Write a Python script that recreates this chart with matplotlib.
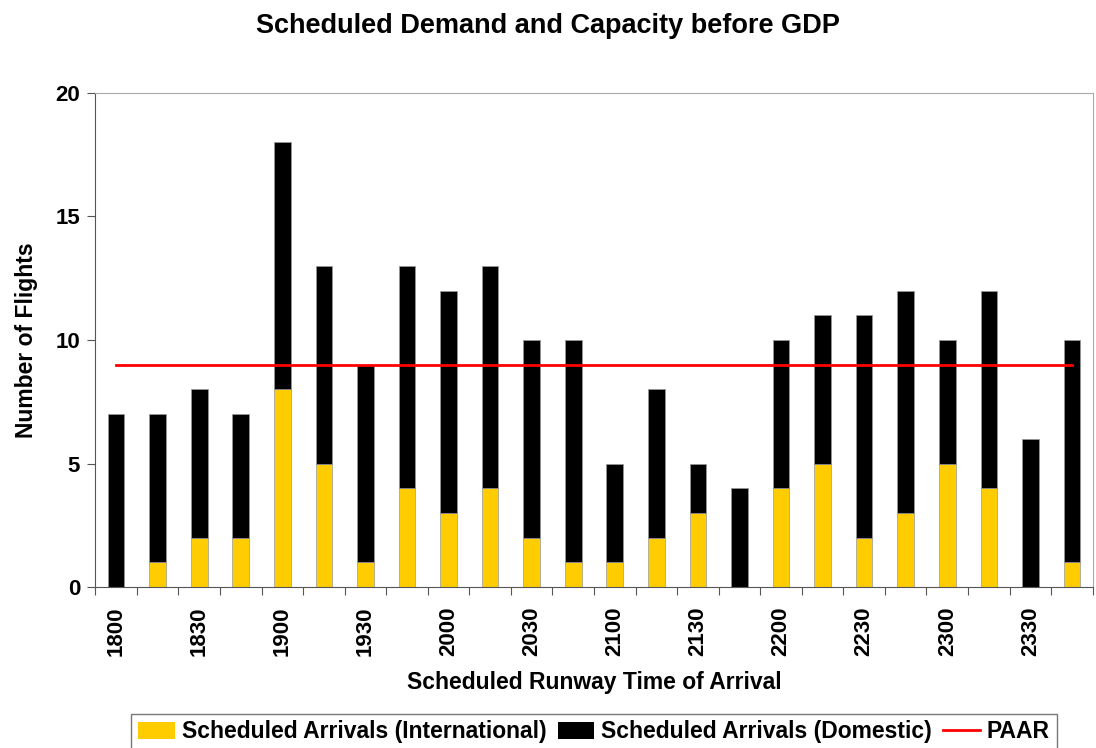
import numpy as np
import matplotlib.pyplot as plt
from matplotlib.lines import Line2D
from matplotlib.patches import Patch

plt.rcParams['font.family'] = ['Liberation Sans', 'DejaVu Sans']
plt.rcParams['font.weight'] = 'bold'

times = ['1800', '1815', '1830', '1845', '1900', '1915', '1930', '1945',
         '2000', '2015', '2030', '2045', '2100', '2115', '2130', '2145',
         '2200', '2215', '2230', '2245', '2300', '2315', '2330', '2345']
intl = [0, 1, 2, 2, 8, 5, 1, 4, 3, 4, 2, 1, 1, 2, 3, 0, 4, 5, 2, 3, 5, 4, 0, 1]
total = [7, 7, 8, 7, 18, 13, 9, 13, 12, 13, 10, 10, 5, 8, 5, 4, 10, 11, 11, 12, 10, 12, 6, 10]
domestic = [t - i for t, i in zip(total, intl)]
paar = [9] * len(times)

x = np.arange(len(times))

fig = plt.figure(figsize=(10.96, 7.48), dpi=100)
ax = fig.add_axes([0.087, 0.215, 0.910, 0.661])

ax.bar(x, intl, width=0.4, color='#FFCC00', edgecolor='#999999', linewidth=0.5)
ax.bar(x, domestic, width=0.4, bottom=intl, color='black', edgecolor='#999999', linewidth=0.5)
ax.plot(x, paar, color='#FF0000', linewidth=2)

ax.set_xlim(-0.5, len(times) - 0.5)
ax.set_ylim(0, 20)
ax.set_yticks([0, 5, 10, 15, 20])
ax.tick_params(axis='y', labelsize=16, length=6, color='#555555', pad=5)

# ticks at category boundaries, labels every other category
ax.set_xticks(np.arange(-0.5, len(times), 1.0))
ax.set_xticklabels([])
ax.set_xticks(x[::2], minor=True)
ax.set_xticklabels(times[::2], minor=True, rotation=90, fontsize=16)
ax.tick_params(axis='x', which='major', length=6, color='#555555', direction='out')
ax.tick_params(axis='x', which='minor', length=0, pad=14)

for s in ['left', 'bottom']:
    ax.spines[s].set_color('#555555')
for s in ['top', 'right']:
    ax.spines[s].set_color('#aaaaaa')

ax.set_xlabel('Scheduled Runway Time of Arrival', fontsize=16.5, fontweight='bold')
ax.xaxis.set_label_coords(0.5, -0.17)
ax.set_ylabel('Number of Flights', fontsize=16.5, fontweight='bold')
ax.yaxis.set_label_coords(-0.058, 0.5)
fig.suptitle('Scheduled Demand and Capacity before GDP', fontsize=19.5, fontweight='bold', y=0.983)

handles = [Patch(facecolor='#FFCC00', label='Scheduled Arrivals (International)'),
           Patch(facecolor='black', label='Scheduled Arrivals (Domestic)'),
           Line2D([0], [0], color='#FF0000', linewidth=2, label='PAAR')]
leg = fig.legend(handles=handles, loc='upper center', bbox_to_anchor=(0.542, 0.046), ncol=3,
                 fontsize=16.5, frameon=True, fancybox=False, edgecolor='#555555',
                 handlelength=1.6, handleheight=0.8, handletextpad=0.3, columnspacing=0.5,
                 borderpad=0.3, borderaxespad=0)
leg.get_frame().set_linewidth(1.0)

fig.savefig('out.png', dpi=100)
